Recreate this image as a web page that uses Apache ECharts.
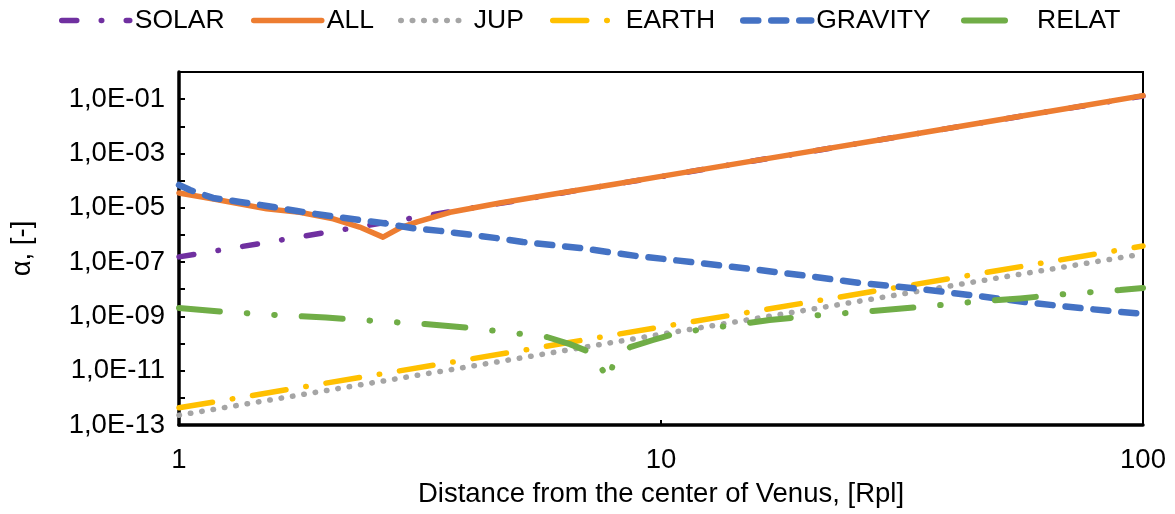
<!DOCTYPE html>
<html>
<head>
<meta charset="utf-8">
<script src="https://cdn.jsdelivr.net/npm/echarts@6/dist/echarts.min.js"></script>
<style>
html,body{margin:0;padding:0;background:#fff;}
#c{width:1175px;height:514px;}
</style>
</head>
<body>
<div id="c"></div>
<script>
// ---- data ----
const seriesNames = ['SOLAR', 'ALL', 'JUP', 'EARTH', 'GRAVITY', 'RELAT'];

const rSolar = [1, 1.5, 2, 3, 4, 5, 7, 10, 15, 20, 30, 50, 70, 100];
const solar  = [1.55e-7, 5.1e-7, 1.2e-6, 4.0e-6, 9.5e-6, 1.8e-5, 5.0e-5, 1.4e-4, 4.8e-4, 1.1e-3, 3.7e-3, 1.7e-2, 4.6e-2, 1.3e-1];

const rAll = [1, 1.18, 1.52, 1.78, 2.09, 2.37, 2.65, 2.87, 3.12, 3.65, 4.63, 6, 8, 10, 15, 20, 30, 50, 70, 100];
const all  = [3.5e-5, 2.1e-5, 9.1e-6, 6.8e-6, 3.9e-6, 1.95e-6, 8.3e-7, 1.8e-6, 3.0e-6, 6.8e-6, 1.5e-5, 3.2e-5, 7.4e-5, 1.43e-4, 4.8e-4, 1.12e-3, 3.7e-3, 1.7e-2, 4.6e-2, 1.35e-1];

const rJup = [1, 2, 5, 10, 20, 50, 100];
const jup  = [2.3e-13, 1.8e-12, 2.75e-11, 2.2e-10, 1.7e-9, 2.6e-8, 2.0e-7];

const rEarth = [1, 2, 5, 10, 20, 50, 100];
const earth  = [4.3e-13, 3.4e-12, 5.1e-11, 4.1e-10, 3.2e-9, 4.9e-8, 3.9e-7];

const rGrav = [1, 1.054, 1.176, 1.339, 1.522, 1.757, 1.99, 2.64, 3.04, 3.48, 4.52, 5.17, 6.79, 8.92, 10.2, 15.3, 20.1, 25.9, 34.5, 45.5, 59.1, 77.6, 100];
const grav  = [6.9e-5, 4.5e-5, 2.3e-5, 1.64e-5, 1.17e-5, 7.6e-6, 5.4e-6, 2.75e-6, 1.8e-6, 1.41e-6, 7.8e-7, 5.5e-7, 3.3e-7, 1.66e-7, 1.29e-7, 5.6e-8, 3.1e-8, 1.7e-8, 1.02e-8, 5.6e-9, 3.1e-9, 1.86e-9, 1.23e-9];

const rRelat = [1, 1.258, 1.597, 2.018, 2.54, 3.24, 4.05, 5.15, 5.8, 6.47, 7.19, 7.65, 7.8, 7.95, 8.63, 9.63, 10.8, 13.25, 16.8, 21.4, 27.5, 34.8, 44.2, 55.6, 69.9, 89.6, 100];
const relat  = [2.04e-9, 1.45e-9, 1.12e-9, 9.1e-10, 6.8e-10, 5.2e-10, 3.7e-10, 2.24e-10, 1.74e-10, 9.5e-11, 4.5e-11, 7.6e-12, 4.0e-12, 1.8e-11, 7.4e-11, 1.35e-10, 2.45e-10, 4.1e-10, 7.4e-10, 1.12e-9, 1.58e-9, 2.24e-9, 3.4e-9, 4.6e-9, 6.8e-9, 9.3e-9, 1.12e-8];

const xTickLabels = ['1', '10', '100'];
const yLabelExponents = [-13, -11, -9, -7, -5, -3, -1];

const xTitle = 'Distance from the center of Venus, [Rpl]';
const yTitle = 'α, [-]';

// ---- chart ----
const FONT = '"Liberation Sans", Arial, sans-serif';
function pairs(xs, ys) { return xs.map((x, i) => [x, ys[i]]); }
function yFmt(v) {
  const e = Math.round(Math.log10(v));
  if (yLabelExponents.indexOf(e) < 0) return '';
  return '1,0E' + (e < 0 ? '-' : '+') + String(Math.abs(e)).padStart(2, '0');
}
function xFmt(v) {
  const e = Math.round(Math.log10(v));
  return xTickLabels[e] !== undefined ? xTickLabels[e] : '';
}

const styles = {
  SOLAR:   { color: '#7030A0', width: 5.5, type: [15, 24.5, 0.5, 24.5] },
  ALL:     { color: '#ED7D31', width: 5.5, type: 'solid' },
  JUP:     { color: '#A5A5A5', width: 5.5, type: [0.5, 11] },
  EARTH:   { color: '#FFC000', width: 5.5, type: [34, 20, 0.5, 20] },
  GRAVITY: { color: '#4472C4', width: 6.5, type: [15, 13] },
  RELAT:   { color: '#70AD47', width: 6,   type: [41, 27, 0.5, 27, 0.5, 27] }
};
const dataMap = {
  SOLAR: pairs(rSolar, solar),
  ALL: pairs(rAll, all),
  JUP: pairs(rJup, jup),
  EARTH: pairs(rEarth, earth),
  GRAVITY: pairs(rGrav, grav),
  RELAT: pairs(rRelat, relat)
};
// legend item left positions (layout)
const legendLeft = [59, 251, 398, 550, 740, 961];

const chart = echarts.init(document.getElementById('c'), null, { renderer: 'canvas' });
chart.setOption({
  animation: false,
  backgroundColor: '#fff',
  textStyle: { fontFamily: FONT, color: '#000' },
  legend: seriesNames.map((n, i) => ({
    data: [n],
    top: 7,
    left: legendLeft[i],
    padding: 0,
    itemWidth: 68,
    itemHeight: 14,
    itemGap: 5,
    selectedMode: false,
    itemStyle: { opacity: 0, color: 'rgba(0,0,0,0)', borderWidth: 0 },
    lineStyle: { width: styles[n].width, cap: 'round', type: styles[n].type, color: styles[n].color },
    textStyle: { fontFamily: FONT, fontSize: 26.5, color: '#000', padding: 0 }
  })),
  grid: {
    left: 179, right: 32, top: 72, bottom: 89,
    show: true, borderColor: '#000', borderWidth: 2, containLabel: false
  },
  xAxis: {
    type: 'log', logBase: 10, min: 1, max: 100,
    name: xTitle, nameLocation: 'middle', nameGap: 55,
    nameTextStyle: { fontFamily: FONT, fontSize: 27.5, color: '#000' },
    axisLine: { show: true, onZero: false, lineStyle: { color: '#000', width: 3.5 } },
    axisTick: { show: true, inside: true, length: 5, lineStyle: { color: '#000', width: 2 } },
    axisLabel: { fontFamily: FONT, fontSize: 27.5, color: '#000', margin: 21, formatter: xFmt },
    splitLine: { show: false }
  },
  yAxis: {
    type: 'log', logBase: 10, min: 1e-13, max: 1, interval: 1, splitNumber: 13,
    name: yTitle, nameLocation: 'middle', nameGap: 143, nameRotate: 90,
    nameTextStyle: { fontFamily: FONT, fontSize: 27.5, color: '#000' },
    axisLine: { show: true, onZero: false, lineStyle: { color: '#000', width: 3.5 } },
    axisTick: { show: true, inside: true, length: 6, interval: 0, lineStyle: { color: '#000', width: 2 } },
    axisLabel: { fontFamily: FONT, fontSize: 27.5, color: '#000', margin: 14, interval: 0, formatter: yFmt },
    splitLine: { show: false }
  },
  series: seriesNames.map(n => ({
    name: n,
    type: 'line',
    data: dataMap[n],
    showSymbol: false,
    symbol: 'none',
    smooth: false,
    clip: true,
    color: styles[n].color,
    lineStyle: { color: styles[n].color, width: styles[n].width, type: styles[n].type, cap: 'round', join: 'round' }
  }))
});
</script>
</body>
</html>
